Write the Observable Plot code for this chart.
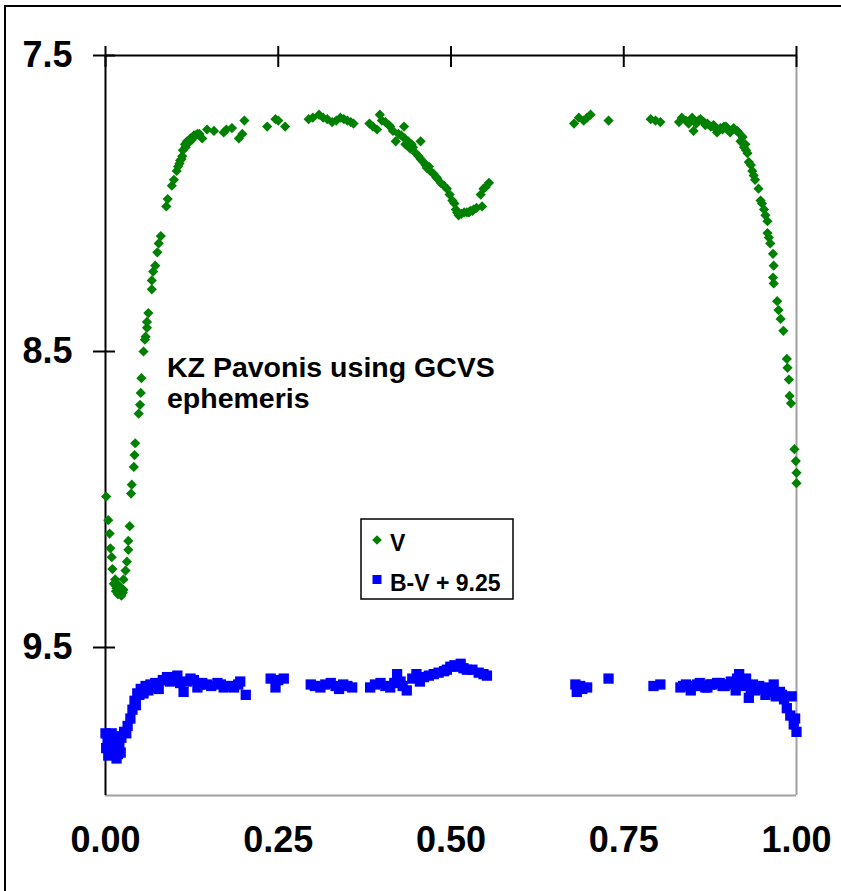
<!DOCTYPE html>
<html><head><meta charset="utf-8">
<script src="https://cdn.jsdelivr.net/npm/d3@7"></script>
<script src="https://cdn.jsdelivr.net/npm/@observablehq/plot@0.6"></script>
<style>
body{margin:0;background:#fff;font-family:Arial,"Liberation Sans",sans-serif;}
#wrap{position:relative;width:841px;height:891px;overflow:hidden;}
#frame{position:absolute;left:4px;top:5px;width:900px;height:950px;border-left:2px solid #000;border-top:2px solid #000;pointer-events:none;}
</style></head><body>
<div id="wrap"><div id="chart"></div><div id="frame"></div></div>
<script>
// Phase ticks and magnitude ticks
const xTicks = [0, 0.25, 0.5, 0.75, 1.0];
const yTicks = [7.5, 8.5, 9.5];
const titleLines = ["KZ Pavonis using GCVS", "ephemeris"];
const seriesNames = ["V", "B-V + 9.25"];
const seriesColors = ["#008000", "#0000ff"];

// V magnitude vs phase
const vPhase = [0.001,0.004,0.006,0.007,0.009,0.010,0.012,0.014,0.016,0.019,0.020,0.023,0.026,0.026,0.029,0.031,0.033,0.033,0.035,0.037,0.038,0.041,0.042,0.043,0.048,0.050,0.051,0.052,0.055,0.057,0.058,0.060,0.060,0.062,0.067,0.067,0.069,0.072,0.075,0.077,0.080,0.088,0.090,0.096,0.099,0.103,0.105,0.108,0.111,0.112,0.115,0.118,0.120,0.123,0.128,0.133,0.140,0.147,0.157,0.171,0.175,0.183,0.193,0.198,0.201,0.234,0.246,0.250,0.260,0.294,0.300,0.309,0.315,0.321,0.328,0.334,0.340,0.345,0.350,0.355,0.359,0.382,0.387,0.393,0.397,0.400,0.405,0.410,0.412,0.416,0.420,0.424,0.428,0.432,0.434,0.438,0.441,0.445,0.449,0.453,0.456,0.456,0.460,0.465,0.470,0.475,0.480,0.485,0.490,0.494,0.502,0.505,0.507,0.511,0.515,0.519,0.523,0.528,0.533,0.537,0.545,0.543,0.547,0.550,0.555,0.678,0.685,0.692,0.697,0.702,0.728,0.789,0.796,0.803,0.830,0.834,0.840,0.849,0.851,0.855,0.861,0.866,0.871,0.876,0.880,0.885,0.890,0.895,0.900,0.904,0.909,0.914,0.919,0.922,0.924,0.927,0.929,0.931,0.934,0.936,0.938,0.940,0.945,0.948,0.950,0.953,0.955,0.958,0.958,0.960,0.962,0.966,0.967,0.966,0.967,0.972,0.974,0.977,0.981,0.986,0.987,0.989,0.990,0.992,0.997,0.999,1.000,1.000,0.015,0.018,0.022,0.025,0.107,0.110,0.116,0.125,0.130,0.136,0.844,0.858,0.868,0.882,0.893,0.898,0.916,0.926,0.433,0.443,0.463,0.468,0.478,0.498,0.509,0.526,0.531];
const vMag = [8.99,9.07,9.115,9.165,9.195,9.235,9.285,9.27,9.30,9.29,9.315,9.325,9.305,9.27,9.24,9.21,9.17,9.14,9.09,8.98,8.95,8.89,8.85,8.81,8.71,8.68,8.64,8.59,8.50,8.46,8.45,8.42,8.40,8.37,8.29,8.26,8.23,8.21,8.165,8.135,8.11,8.01,7.985,7.94,7.92,7.89,7.875,7.855,7.84,7.82,7.80,7.79,7.795,7.78,7.77,7.765,7.78,7.75,7.755,7.76,7.75,7.745,7.78,7.765,7.72,7.74,7.715,7.72,7.74,7.715,7.71,7.70,7.71,7.715,7.725,7.72,7.71,7.715,7.72,7.725,7.73,7.73,7.74,7.75,7.70,7.72,7.725,7.735,7.74,7.755,7.79,7.765,7.77,7.74,7.80,7.79,7.815,7.81,7.83,7.84,7.79,7.85,7.86,7.88,7.89,7.90,7.915,7.93,7.94,7.95,7.99,8.00,8.02,8.04,8.035,8.03,8.03,8.025,8.02,8.015,8.01,7.97,7.95,7.945,7.93,7.73,7.71,7.72,7.71,7.70,7.72,7.715,7.72,7.725,7.725,7.71,7.72,7.71,7.755,7.73,7.715,7.725,7.73,7.74,7.735,7.76,7.745,7.74,7.75,7.76,7.745,7.755,7.79,7.775,7.81,7.82,7.83,7.86,7.87,7.89,7.905,7.92,7.95,7.99,8.00,8.02,8.04,8.06,8.10,8.115,8.135,8.17,8.21,8.25,8.27,8.33,8.36,8.39,8.43,8.525,8.555,8.595,8.65,8.675,8.83,8.87,8.91,8.945,9.31,9.32,9.30,9.315,7.865,7.85,7.81,7.785,7.77,7.765,7.73,7.72,7.735,7.745,7.75,7.74,7.76,7.80,7.78,7.80,7.87,7.875,7.91,7.97,8.03,8.03,8.025];

// B-V colour index + 9.25 vs phase
const bvPhase = [0.000,0.001,0.004,0.007,0.010,0.012,0.016,0.018,0.020,0.023,0.027,0.032,0.036,0.039,0.042,0.046,0.051,0.055,0.058,0.062,0.068,0.077,0.089,0.096,0.104,0.113,0.118,0.123,0.133,0.140,0.147,0.162,0.171,0.186,0.195,0.203,0.239,0.246,0.258,0.297,0.311,0.326,0.338,0.350,0.357,0.383,0.398,0.412,0.422,0.430,0.436,0.444,0.455,0.461,0.475,0.490,0.499,0.505,0.514,0.523,0.531,0.547,0.552,0.680,0.682,0.690,0.697,0.728,0.793,0.803,0.832,0.840,0.847,0.856,0.864,0.871,0.878,0.885,0.893,0.900,0.905,0.912,0.917,0.924,0.931,0.937,0.943,0.949,0.955,0.961,0.967,0.970,0.976,0.982,0.986,0.991,0.996,1.000,0.003,0.009,0.014,0.022,0.030,0.044,0.049,0.065,0.072,0.083,0.093,0.100,0.108,0.128,0.137,0.153,0.167,0.180,0.192,0.250,0.303,0.318,0.333,0.344,0.390,0.405,0.418,0.427,0.450,0.468,0.482,0.494,0.510,0.518,0.540,0.687,0.836,0.851,0.860,0.868,0.875,0.889,0.896,0.908,0.914,0.920,0.927,0.934,0.940,0.946,0.952,0.958,0.964,0.973,0.979,0.993,0.998];
const bvVal = [9.79,9.84,9.865,9.82,9.85,9.80,9.875,9.86,9.835,9.805,9.785,9.765,9.74,9.71,9.68,9.655,9.64,9.655,9.63,9.645,9.635,9.64,9.60,9.61,9.595,9.65,9.615,9.605,9.635,9.62,9.625,9.62,9.635,9.635,9.615,9.66,9.605,9.635,9.605,9.625,9.635,9.62,9.64,9.63,9.635,9.635,9.62,9.635,9.59,9.63,9.645,9.605,9.615,9.60,9.59,9.58,9.565,9.56,9.555,9.575,9.575,9.59,9.595,9.625,9.65,9.64,9.635,9.605,9.63,9.625,9.635,9.625,9.645,9.625,9.63,9.635,9.625,9.62,9.63,9.625,9.615,9.645,9.59,9.615,9.67,9.625,9.635,9.64,9.66,9.645,9.625,9.665,9.65,9.675,9.705,9.73,9.76,9.785,9.81,9.79,9.83,9.855,9.79,9.695,9.66,9.625,9.62,9.61,9.615,9.60,9.62,9.61,9.625,9.63,9.625,9.63,9.625,9.61,9.63,9.625,9.63,9.625,9.625,9.63,9.62,9.615,9.59,9.595,9.585,9.575,9.565,9.57,9.585,9.63,9.63,9.63,9.62,9.635,9.625,9.62,9.63,9.62,9.605,9.63,9.605,9.64,9.645,9.63,9.64,9.635,9.65,9.655,9.66,9.665,9.74,9.77];

const vData = vPhase.map((p, i) => ({phase: p, mag: vMag[i]}));
const bvData = bvPhase.map((p, i) => ({phase: p, mag: bvVal[i]}));

const font = "Arial, 'Liberation Sans', sans-serif";
const plot = Plot.plot({
  width: 841, height: 891,
  marginLeft: 105, marginTop: 55, marginRight: 45, marginBottom: 96,
  style: {fontFamily: font, background: "transparent", overflow: "visible", color: "#000"},
  x: {domain: [0, 1]},
  y: {domain: [7.5, 10], reverse: true},
  marks: [
    Plot.ruleX([1], {stroke: "#a0a0a0", strokeWidth: 2}),
    Plot.ruleY([10], {stroke: "#a0a0a0", strokeWidth: 2}),
    Plot.ruleX([0], {stroke: "#000", strokeWidth: 2}),
    Plot.ruleY([7.5], {stroke: "#000", strokeWidth: 2}),
    Plot.axisX(xTicks, {anchor: "top", tickSize: 21, dy: 11, tickFormat: () => "", strokeWidth: 2, label: null}),
    Plot.axisX(xTicks, {anchor: "bottom", tickSize: 0, tickPadding: 31, fontSize: 36, fontWeight: "bold", tickFormat: d => d.toFixed(2), label: null}),
    Plot.axisY(yTicks, {anchor: "left", tickSize: 22, dx: 10, tickPadding: 21, fontSize: 36, fontWeight: "bold", strokeWidth: 2, tickFormat: d => d.toFixed(1), label: null}),
    Plot.dot(vData, {x: "phase", y: "mag", symbol: "diamond2", r: 4.6, fill: seriesColors[0]}),
    Plot.dot(bvData, {x: "phase", y: "mag", symbol: "square", r: 5.8, fill: seriesColors[1]})
  ]
});
document.getElementById("chart").appendChild(plot);

const svg = d3.select(plot);
// Annotation
const t = svg.append("text").attr("text-anchor", "start").attr("font-family", font).attr("font-weight", "bold").attr("font-size", 28.5).attr("fill", "#000");
titleLines.forEach((s, i) => t.append("tspan").attr("x", 167).attr("y", 377 + i * 31).text(s));

// Legend
const lg = svg.append("g");
lg.append("rect").attr("x", 361).attr("y", 519).attr("width", 152).attr("height", 80).attr("fill", "#fff").attr("stroke", "#000").attr("stroke-width", 1.5);
lg.append("path").attr("transform", "translate(377,540)").attr("d", d3.symbol(d3.symbolDiamond2, 60)()).attr("fill", seriesColors[0]);
lg.append("rect").attr("x", 372.5).attr("y", 575).attr("width", 9).attr("height", 9).attr("fill", seriesColors[1]);
seriesNames.forEach((s, i) => lg.append("text").attr("text-anchor", "start").attr("x", 390).attr("y", 551 + i * 40).attr("font-family", font).attr("font-weight", "bold").attr("font-size", 23).attr("fill", "#000").text(s));
</script>
</body></html>
